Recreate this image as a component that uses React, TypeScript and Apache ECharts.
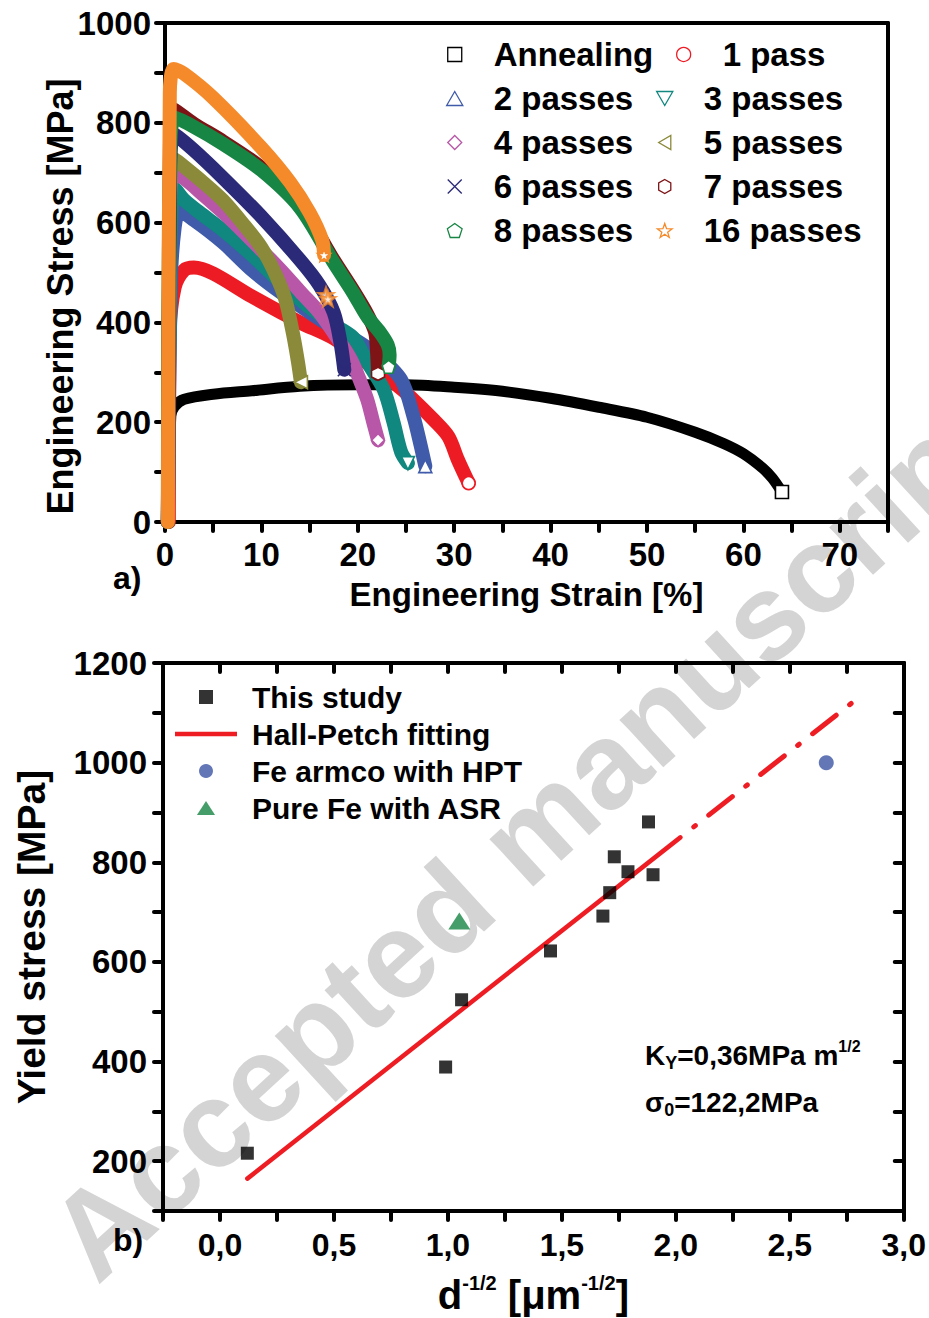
import React, { useEffect, useRef } from 'react';
import * as echarts from 'echarts';

const FONT = "'Liberation Sans', Arial, Helvetica, sans-serif";

// ---------- Top chart: engineering stress-strain curves [strain %, stress MPa]
const annealing = [[0.4,0],[0.6,212],[1,232],[2,246],[5,256],[9,263],[14,272],[20,275],[25,275],[30,270],[35,262],[40,248],[45,230],[50,210],[55,180],[58,157],[60,137],[62,108],[63,88],[64,60]];
const pass1 = [[0.4,0],[0.5,380],[1,470],[2,505],[3,510],[5,498],[9,452],[14,400],[17.5,368],[21,318],[24,275],[25.5,250],[27.9,204],[29.4,171],[30.4,124],[31.5,78]];
const passes2 = [[0.3,0],[0.6,480],[1,590],[1.5,622],[3,605],[6,560],[9,505],[12,460],[15,420],[17,395],[19.5,368],[22,335],[24.5,285],[25.8,210],[26.5,155],[27,112]];
const passes3 = [[0.3,0],[0.6,560],[1,668],[2,645],[3.6,620],[6,585],[9,535],[12,480],[15,430],[18,390],[19.6,368],[21,320],[22.7,265],[23.7,200],[24.5,140],[25.2,118]];
const passes4 = [[0.3,0],[0.5,600],[0.8,700],[2,688],[4,655],[7,603],[10,545],[12,505],[14.1,460],[16,420],[18,365],[19.3,325],[20.3,280],[21,244],[21.6,200],[22.1,164]];
const passes5 = [[0.3,0],[0.5,620],[0.8,730],[2,712],[4,680],[6,645],[8,600],[10,550],[11.5,495],[12.5,445],[13.3,375],[13.8,320],[14.1,280]];
const passes6 = [[0.3,0],[0.5,650],[0.9,778],[3,745],[6,690],[10,612],[14,525],[16,475],[17.5,420],[18.2,360],[18.6,305]];
const passes7 = [[0.3,0],[0.5,720],[0.8,828],[3,798],[6,763],[10,710],[14,635],[17.5,525],[19.5,465],[21,416],[21.8,380],[22,340],[22.1,297]];
const passes8 = [[0.3,0],[0.5,700],[1,810],[3,792],[6,758],[10,705],[14,630],[17.5,520],[19.5,460],[21,411],[22.3,380],[23.1,355],[23.3,335],[23.2,311]];
const passes16 = [[0.3,0],[0.5,860],[0.9,908],[2,898],[5,850],[10,750],[13,680],[15,620],[16.3,565],[16.5,535]];
const passes16Tail = [[16.7,455],[16.9,447]];

const curveNames = ['Annealing','1 pass','2 passes','3 passes','4 passes','5 passes','6 passes','7 passes','8 passes','16 passes'];
const curveColors = ['#000000','#ED1C24','#3F5BA9','#10877F','#B857A8','#8A8A3A','#2A2A78','#7E1416','#178543','#F58A2B'];
const curveSymbols = [
  'path://M0,0L10,0L10,10L0,10Z',
  'circle',
  'path://M5,0L10,8.66L0,8.66Z',
  'path://M0,0L10,0L5,8.66Z',
  'path://M5,0L10,5L5,10L0,5Z',
  'path://M0,5L8.66,0L8.66,10Z',
  'path://M0,0L10,10M10,0L0,10',
  'path://M5,0L9.33,2.5L9.33,7.5L5,10L0.67,7.5L0.67,2.5Z',
  'path://M5,0L9.76,3.45L7.94,9.05L2.06,9.05L0.24,3.45Z',
  'path://M5,0L6.18,3.38L9.76,3.45L6.9,5.62L7.94,9.05L5,7L2.06,9.05L3.1,5.62L0.24,3.45L3.82,3.38Z'
];
const curves = [annealing, pass1, passes2, passes3, passes4, passes5, passes6, passes7, passes8, passes16];
const legendLeftColumn = ['Annealing','2 passes','4 passes','6 passes','8 passes'];
const legendRightFirst = ['1 pass'];
const legendRightColumn = ['3 passes','5 passes','7 passes','16 passes'];

// ---------- Bottom chart: Hall-Petch [d^-1/2 (um^-1/2), yield stress MPa]
const studyPoints = [[0.12,216],[0.99,389],[1.06,524],[1.45,622],[1.68,692],[1.71,739],[1.73,811],[1.79,781],[1.88,881],[1.90,775]];
const hptPoints = [[2.66,1000]];
const asrPoints = [[1.05,682]];
const fitSolid = [[0.12,165],[2.02,850]];
const fitExtrapolated = [[2.02,850],[2.82,1137]];

const RED = '#EE1D23';
const black = '#000';
const axisLine = { show: true, onZero: false, lineStyle: { color: black, width: 4 } };
const tickOut = { show: true, inside: false, length: 9, lineStyle: { color: black, width: 4, cap: 'round' } };
const tickIn = { show: true, inside: true, length: 9, lineStyle: { color: black, width: 4, cap: 'round' } };
const labelBase = { color: black, fontWeight: 'bold', fontFamily: FONT, hideOverlap: false };

function legendItems(names: string[]) {
  return names.map((n) => {
    const i = curveNames.indexOf(n);
    return { name: n, icon: curveSymbols[i], itemStyle: { color: 'rgba(255,255,255,0)', borderColor: curveColors[i], borderWidth: 1.3 } };
  });
}

function buildOption() {
  const curveSeries: any[] = curves.map((data, i) => ({
    type: 'line',
    name: curveNames[i],
    xAxisIndex: 0,
    yAxisIndex: 0,
    smooth: 0.3,
    showSymbol: true,
    showAllSymbol: true,
    symbol: curveSymbols[i],
    symbolSize: 13,
    lineStyle: { color: curveColors[i], width: i === 0 ? 11 : 14, cap: 'round', join: 'round' },
    itemStyle: { color: curveColors[i] },
    data: data.map((p, j) =>
      j === data.length - 1
        ? { value: p, itemStyle: { color: '#fff', borderColor: curveColors[i], borderWidth: 1.6 } }
        : { value: p, symbol: 'none' }
    ),
    z: 2,
  }));
  curveSeries.push({
    type: 'scatter',
    name: '16 passes',
    xAxisIndex: 0,
    yAxisIndex: 0,
    symbol: curveSymbols[9],
    symbolSize: 14,
    itemStyle: { color: '#fff', borderColor: curveColors[9], borderWidth: 2.5 },
    data: passes16Tail,
    z: 3,
  });

  const legendText = { fontSize: 33, fontWeight: 'bold', fontFamily: FONT, color: black };
  const topLegend = (left: number, top: number, names: string[]) => ({
    orient: 'vertical', align: 'left', left, top, itemWidth: 68, itemHeight: 14, itemGap: 11, padding: 0,
    selectedMode: false, data: legendItems(names), textStyle: legendText,
  });
  const sub = (size: number) => ({ fontSize: size, fontWeight: 'bold', fontFamily: FONT, fill: black, lineHeight: 8, verticalAlign: 'bottom' });
  const sup = (size: number) => ({ fontSize: size, fontWeight: 'bold', fontFamily: FONT, fill: black, lineHeight: 8, verticalAlign: 'top' });
  const main = { fontSize: 28, fontWeight: 'bold', fontFamily: FONT, fill: black, lineHeight: 34 };

  return {
    animation: false,
    backgroundColor: '#fff',
    textStyle: { fontFamily: FONT },
    grid: [
      { left: 165, top: 23, width: 723, height: 499, containLabel: false },
      { left: 163, top: 663, width: 741, height: 548, containLabel: false },
    ],
    legend: [
      topLegend(446, 38, legendLeftColumn),
      topLegend(676, 38, legendRightFirst),
      topLegend(656, 82, legendRightColumn),
      {
        orient: 'vertical', align: 'left', left: 175, top: 682, itemWidth: 62, itemHeight: 14, itemGap: 7, padding: 0, selectedMode: false,
        data: [
          { name: 'This study', icon: 'path://M0,0L10,0L10,10L0,10Z' },
          { name: 'Hall-Petch fitting', icon: 'path://M0,0L62,0L62,4.5L0,4.5Z', itemStyle: { color: RED, borderWidth: 0 } },
          { name: 'Fe armco with HPT', icon: 'circle' },
          { name: 'Pure Fe with ASR', icon: 'path://M11,0L22,17L0,17Z' },
        ],
        textStyle: { fontSize: 30, fontWeight: 'bold', fontFamily: FONT, color: black, padding: [0, 0, 0, 10] },
      },
    ],
    xAxis: [
      {
        gridIndex: 0, type: 'value', min: 0, max: 75, interval: 5, position: 'bottom',
        axisLine, axisTick: tickOut, splitLine: { show: false },
        axisLabel: { ...labelBase, fontSize: 33, margin: 16, formatter: (v: number) => (v % 10 === 0 && v <= 70 ? String(v) : '') },
        name: 'Engineering Strain [%]', nameLocation: 'middle', nameGap: 56, nameMoveOverlap: false,
        nameTextStyle: { color: black, fontSize: 33, fontWeight: 'bold', fontFamily: FONT },
      },
      { gridIndex: 0, type: 'value', min: 0, max: 75, position: 'top', axisLine, axisTick: { show: false }, axisLabel: { show: false }, splitLine: { show: false } },
      {
        gridIndex: 1, type: 'value', min: -0.25, max: 3, interval: 0.25, position: 'bottom',
        axisLine, axisTick: tickOut, splitLine: { show: false },
        axisLabel: {
          ...labelBase, fontSize: 32, margin: 18,
          formatter: (v: number) => {
            const k = Math.round(v * 4);
            return k >= 0 && k % 2 === 0 ? (k / 4).toFixed(1).replace('.', ',') : '';
          },
        },
        name: '{a|d}{s|-1/2}{a| [μm}{s|-1/2}{a|]}', nameLocation: 'middle', nameGap: 62, nameMoveOverlap: false,
        nameTextStyle: {
          rich: {
            a: { fontSize: 40, fontWeight: 'bold', fontFamily: FONT, color: black, lineHeight: 44 },
            s: { fontSize: 20, fontWeight: 'bold', fontFamily: FONT, color: black, lineHeight: 18, verticalAlign: 'top' },
          },
        },
      },
      { gridIndex: 1, type: 'value', min: -0.25, max: 3, interval: 0.25, position: 'top', axisLine, axisTick: tickIn, axisLabel: { show: false }, splitLine: { show: false } },
    ],
    yAxis: [
      {
        gridIndex: 0, type: 'value', min: 0, max: 1000, interval: 100, position: 'left',
        axisLine, axisTick: tickOut, splitLine: { show: false },
        axisLabel: { ...labelBase, fontSize: 33, margin: 14, formatter: (v: number) => (v % 200 === 0 ? String(v) : '') },
        name: 'Engineering Stress [MPa]', nameLocation: 'middle', nameGap: 87, nameMoveOverlap: false,
        nameTextStyle: { color: black, fontSize: 36, fontWeight: 'bold', fontFamily: FONT, padding: [0, 48, 0, 0] },
      },
      { gridIndex: 0, type: 'value', min: 0, max: 1000, position: 'right', axisLine, axisTick: { show: false }, axisLabel: { show: false }, splitLine: { show: false } },
      {
        gridIndex: 1, type: 'value', min: 100, max: 1200, interval: 100, position: 'left',
        axisLine, axisTick: tickOut, splitLine: { show: false },
        axisLabel: { ...labelBase, fontSize: 33, margin: 16, formatter: (v: number) => (v % 200 === 0 ? String(v) : '') },
        name: 'Yield stress [MPa]', nameLocation: 'middle', nameGap: 112, nameMoveOverlap: false,
        nameTextStyle: { color: black, fontSize: 39, fontWeight: 'bold', fontFamily: FONT },
      },
      { gridIndex: 1, type: 'value', min: 100, max: 1200, interval: 100, position: 'right', axisLine, axisTick: tickIn, axisLabel: { show: false }, splitLine: { show: false } },
    ],
    series: [
      ...curveSeries,
      { type: 'scatter', name: 'This study', xAxisIndex: 2, yAxisIndex: 2, symbol: 'rect', symbolSize: 13, itemStyle: { color: black }, data: studyPoints, z: 3 },
      { type: 'line', name: 'Hall-Petch fitting', xAxisIndex: 2, yAxisIndex: 2, symbol: 'none', lineStyle: { color: RED, width: 4.5, cap: 'round' }, itemStyle: { color: RED }, data: fitSolid, z: 2 },
      { type: 'line', name: 'Hall-Petch fitting', xAxisIndex: 2, yAxisIndex: 2, symbol: 'none', lineStyle: { color: RED, width: 5, cap: 'round', type: [2, 17, 30, 17], dashOffset: 49 }, itemStyle: { color: RED }, data: fitExtrapolated, z: 2 },
      { type: 'scatter', name: 'Fe armco with HPT', xAxisIndex: 2, yAxisIndex: 2, symbol: 'circle', symbolSize: 15, itemStyle: { color: '#3C55A5' }, data: hptPoints, z: 3 },
      { type: 'scatter', name: 'Pure Fe with ASR', xAxisIndex: 2, yAxisIndex: 2, symbol: 'triangle', symbolSize: [22, 17], itemStyle: { color: '#178543' }, data: asrPoints, z: 3 },
    ],
    graphic: {
      elements: [
        {
          type: 'text', x: 526, y: 836, rotation: (42.5 * Math.PI) / 180, z: -1, silent: true,
          style: { text: 'Accepted manuscript', fontSize: 122, fontWeight: 'bold', fontFamily: FONT, fill: '#d4d4d4', align: 'center', verticalAlign: 'middle' },
        },
        { type: 'text', x: 113, y: 578, z: 10, style: { text: 'a)', fontSize: 32, fontWeight: 'bold', fontFamily: FONT, fill: black, verticalAlign: 'middle' } },
        { type: 'text', x: 113, y: 1240, z: 10, style: { text: 'b)', fontSize: 32, fontWeight: 'bold', fontFamily: FONT, fill: black, verticalAlign: 'middle' } },
        {
          type: 'text', x: 645, y: 1055, z: 10,
          style: {
            text: '{m|K}{sb|Y}{m|=0,36MPa m}{sp|1/2}', verticalAlign: 'middle',
            rich: { m: main, sb: sub(18), sp: sup(16) },
          },
        },
        {
          type: 'text', x: 645, y: 1102, z: 10,
          style: {
            text: '{m|σ}{sb|0}{m|=122,2MPa}', verticalAlign: 'middle',
            rich: { m: main, sb: sub(18) },
          },
        },
      ],
    },
  };
}

export default function App() {
  const ref = useRef<HTMLDivElement>(null);
  useEffect(() => {
    if (!ref.current) return;
    const chart = echarts.init(ref.current, null, { renderer: 'svg' });
    chart.setOption(buildOption() as any);
    return () => chart.dispose();
  }, []);
  return <div ref={ref} style={{ position: 'absolute', left: 0, top: 0, width: 929, height: 1318, background: '#fff' }} />;
}
